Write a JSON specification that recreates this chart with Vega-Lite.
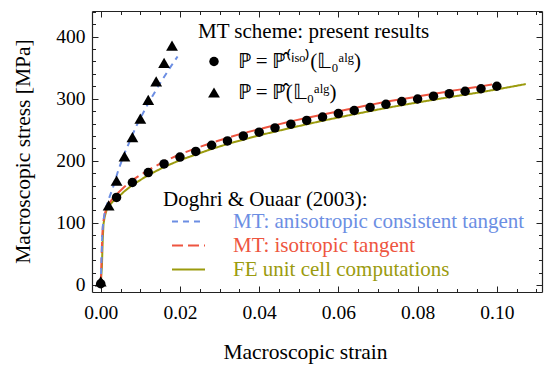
{
  "$schema": "https://vega.github.io/schema/vega-lite/v6.json",
  "width": 450,
  "height": 281,
  "autosize": "none",
  "padding": {"left": 92, "top": 11, "right": 2, "bottom": 73},
  "background": "white",
  "config": {
    "view": {"stroke": null},
    "font": "Liberation Serif",
    "axis": {
      "labelFont": "Liberation Serif", "labelFontSize": 19.5, "labelColor": "black",
      "titleFont": "Liberation Serif", "titleFontSize": 21.5, "titleFontWeight": "normal", "titleColor": "black",
      "domainColor": "#222222", "domainWidth": 1.2, "tickColor": "#222222", "tickWidth": 1,
      "grid": false, "labelOverlap": false, "labelFlush": false
    },
    "legend": {
      "labelFont": "Liberation Serif", "labelFontSize": 21, "labelLimit": 600,
      "titleFont": "Liberation Serif", "titleFontSize": 21, "titleFontWeight": "normal", "titleColor": "black", "titleLimit": 600
    }
  },
  "datasets": {
    "lines": [
      {"strain": 0, "stress": 0, "method": "FE unit cell computations"},
      {"strain": 0.0003, "stress": 30, "method": "FE unit cell computations"},
      {"strain": 0.0005, "stress": 72, "method": "FE unit cell computations"},
      {"strain": 0.0007, "stress": 98, "method": "FE unit cell computations"},
      {"strain": 0.001, "stress": 110, "method": "FE unit cell computations"},
      {"strain": 0.0015, "stress": 121, "method": "FE unit cell computations"},
      {"strain": 0.002, "stress": 127, "method": "FE unit cell computations"},
      {"strain": 0.003, "stress": 134, "method": "FE unit cell computations"},
      {"strain": 0.004, "stress": 139, "method": "FE unit cell computations"},
      {"strain": 0.006, "stress": 151, "method": "FE unit cell computations"},
      {"strain": 0.008, "stress": 161, "method": "FE unit cell computations"},
      {"strain": 0.012, "stress": 177, "method": "FE unit cell computations"},
      {"strain": 0.016, "stress": 190, "method": "FE unit cell computations"},
      {"strain": 0.02, "stress": 201, "method": "FE unit cell computations"},
      {"strain": 0.024, "stress": 210, "method": "FE unit cell computations"},
      {"strain": 0.028, "stress": 219, "method": "FE unit cell computations"},
      {"strain": 0.032, "stress": 227, "method": "FE unit cell computations"},
      {"strain": 0.036, "stress": 234, "method": "FE unit cell computations"},
      {"strain": 0.04, "stress": 241, "method": "FE unit cell computations"},
      {"strain": 0.048, "stress": 253, "method": "FE unit cell computations"},
      {"strain": 0.056, "stress": 264.5, "method": "FE unit cell computations"},
      {"strain": 0.064, "stress": 275, "method": "FE unit cell computations"},
      {"strain": 0.072, "stress": 285, "method": "FE unit cell computations"},
      {"strain": 0.08, "stress": 294, "method": "FE unit cell computations"},
      {"strain": 0.088, "stress": 302.5, "method": "FE unit cell computations"},
      {"strain": 0.096, "stress": 310.5, "method": "FE unit cell computations"},
      {"strain": 0.1, "stress": 315, "method": "FE unit cell computations"},
      {"strain": 0.1073, "stress": 323.5, "method": "FE unit cell computations"},
      {"strain": 0, "stress": 0, "method": "MT: isotropic tangent"},
      {"strain": 0.0002, "stress": 40, "method": "MT: isotropic tangent"},
      {"strain": 0.0004, "stress": 80, "method": "MT: isotropic tangent"},
      {"strain": 0.0006, "stress": 100, "method": "MT: isotropic tangent"},
      {"strain": 0.001, "stress": 114, "method": "MT: isotropic tangent"},
      {"strain": 0.0015, "stress": 124, "method": "MT: isotropic tangent"},
      {"strain": 0.002, "stress": 130, "method": "MT: isotropic tangent"},
      {"strain": 0.003, "stress": 139, "method": "MT: isotropic tangent"},
      {"strain": 0.004, "stress": 146, "method": "MT: isotropic tangent"},
      {"strain": 0.006, "stress": 158, "method": "MT: isotropic tangent"},
      {"strain": 0.008, "stress": 169, "method": "MT: isotropic tangent"},
      {"strain": 0.012, "stress": 185, "method": "MT: isotropic tangent"},
      {"strain": 0.016, "stress": 199, "method": "MT: isotropic tangent"},
      {"strain": 0.02, "stress": 210.5, "method": "MT: isotropic tangent"},
      {"strain": 0.024, "stress": 220, "method": "MT: isotropic tangent"},
      {"strain": 0.028, "stress": 229, "method": "MT: isotropic tangent"},
      {"strain": 0.032, "stress": 237, "method": "MT: isotropic tangent"},
      {"strain": 0.036, "stress": 244.5, "method": "MT: isotropic tangent"},
      {"strain": 0.04, "stress": 251, "method": "MT: isotropic tangent"},
      {"strain": 0.048, "stress": 263.5, "method": "MT: isotropic tangent"},
      {"strain": 0.056, "stress": 274.5, "method": "MT: isotropic tangent"},
      {"strain": 0.064, "stress": 285, "method": "MT: isotropic tangent"},
      {"strain": 0.072, "stress": 295, "method": "MT: isotropic tangent"},
      {"strain": 0.08, "stress": 303.5, "method": "MT: isotropic tangent"},
      {"strain": 0.088, "stress": 312, "method": "MT: isotropic tangent"},
      {"strain": 0.096, "stress": 320, "method": "MT: isotropic tangent"},
      {"strain": 0.0988, "stress": 323, "method": "MT: isotropic tangent"},
      {"strain": 0, "stress": 0, "method": "MT: anisotropic consistent tangent"},
      {"strain": 0.0002, "stress": 40, "method": "MT: anisotropic consistent tangent"},
      {"strain": 0.0004, "stress": 80, "method": "MT: anisotropic consistent tangent"},
      {"strain": 0.0006, "stress": 100, "method": "MT: anisotropic consistent tangent"},
      {"strain": 0.001, "stress": 116, "method": "MT: anisotropic consistent tangent"},
      {"strain": 0.0015, "stress": 128, "method": "MT: anisotropic consistent tangent"},
      {"strain": 0.002, "stress": 138, "method": "MT: anisotropic consistent tangent"},
      {"strain": 0.003, "stress": 155, "method": "MT: anisotropic consistent tangent"},
      {"strain": 0.0045, "stress": 186, "method": "MT: anisotropic consistent tangent"},
      {"strain": 0.006, "stress": 212, "method": "MT: anisotropic consistent tangent"},
      {"strain": 0.009, "stress": 256, "method": "MT: anisotropic consistent tangent"},
      {"strain": 0.0117, "stress": 289, "method": "MT: anisotropic consistent tangent"},
      {"strain": 0.0147, "stress": 322, "method": "MT: anisotropic consistent tangent"},
      {"strain": 0.0175, "stress": 350, "method": "MT: anisotropic consistent tangent"},
      {"strain": 0.0194, "stress": 368, "method": "MT: anisotropic consistent tangent"}
    ],
    "points": [
      {"strain": 0, "stress": 2, "scheme": "\u2119\u2009=\u2009\u2119\u0302\u207d\u2071\u02e2\u1d52\u207e(\ud835\udd43\u2080\u1d43\u02e1\u1d4d)"},
      {"strain": 0.004, "stress": 141, "scheme": "\u2119\u2009=\u2009\u2119\u0302\u207d\u2071\u02e2\u1d52\u207e(\ud835\udd43\u2080\u1d43\u02e1\u1d4d)"},
      {"strain": 0.008, "stress": 165, "scheme": "\u2119\u2009=\u2009\u2119\u0302\u207d\u2071\u02e2\u1d52\u207e(\ud835\udd43\u2080\u1d43\u02e1\u1d4d)"},
      {"strain": 0.012, "stress": 181, "scheme": "\u2119\u2009=\u2009\u2119\u0302\u207d\u2071\u02e2\u1d52\u207e(\ud835\udd43\u2080\u1d43\u02e1\u1d4d)"},
      {"strain": 0.016, "stress": 195, "scheme": "\u2119\u2009=\u2009\u2119\u0302\u207d\u2071\u02e2\u1d52\u207e(\ud835\udd43\u2080\u1d43\u02e1\u1d4d)"},
      {"strain": 0.02, "stress": 206, "scheme": "\u2119\u2009=\u2009\u2119\u0302\u207d\u2071\u02e2\u1d52\u207e(\ud835\udd43\u2080\u1d43\u02e1\u1d4d)"},
      {"strain": 0.024, "stress": 215, "scheme": "\u2119\u2009=\u2009\u2119\u0302\u207d\u2071\u02e2\u1d52\u207e(\ud835\udd43\u2080\u1d43\u02e1\u1d4d)"},
      {"strain": 0.028, "stress": 225, "scheme": "\u2119\u2009=\u2009\u2119\u0302\u207d\u2071\u02e2\u1d52\u207e(\ud835\udd43\u2080\u1d43\u02e1\u1d4d)"},
      {"strain": 0.032, "stress": 232, "scheme": "\u2119\u2009=\u2009\u2119\u0302\u207d\u2071\u02e2\u1d52\u207e(\ud835\udd43\u2080\u1d43\u02e1\u1d4d)"},
      {"strain": 0.036, "stress": 240, "scheme": "\u2119\u2009=\u2009\u2119\u0302\u207d\u2071\u02e2\u1d52\u207e(\ud835\udd43\u2080\u1d43\u02e1\u1d4d)"},
      {"strain": 0.04, "stress": 246, "scheme": "\u2119\u2009=\u2009\u2119\u0302\u207d\u2071\u02e2\u1d52\u207e(\ud835\udd43\u2080\u1d43\u02e1\u1d4d)"},
      {"strain": 0.044, "stress": 253, "scheme": "\u2119\u2009=\u2009\u2119\u0302\u207d\u2071\u02e2\u1d52\u207e(\ud835\udd43\u2080\u1d43\u02e1\u1d4d)"},
      {"strain": 0.048, "stress": 259, "scheme": "\u2119\u2009=\u2009\u2119\u0302\u207d\u2071\u02e2\u1d52\u207e(\ud835\udd43\u2080\u1d43\u02e1\u1d4d)"},
      {"strain": 0.052, "stress": 265, "scheme": "\u2119\u2009=\u2009\u2119\u0302\u207d\u2071\u02e2\u1d52\u207e(\ud835\udd43\u2080\u1d43\u02e1\u1d4d)"},
      {"strain": 0.056, "stress": 270.5, "scheme": "\u2119\u2009=\u2009\u2119\u0302\u207d\u2071\u02e2\u1d52\u207e(\ud835\udd43\u2080\u1d43\u02e1\u1d4d)"},
      {"strain": 0.06, "stress": 276, "scheme": "\u2119\u2009=\u2009\u2119\u0302\u207d\u2071\u02e2\u1d52\u207e(\ud835\udd43\u2080\u1d43\u02e1\u1d4d)"},
      {"strain": 0.064, "stress": 281, "scheme": "\u2119\u2009=\u2009\u2119\u0302\u207d\u2071\u02e2\u1d52\u207e(\ud835\udd43\u2080\u1d43\u02e1\u1d4d)"},
      {"strain": 0.068, "stress": 286, "scheme": "\u2119\u2009=\u2009\u2119\u0302\u207d\u2071\u02e2\u1d52\u207e(\ud835\udd43\u2080\u1d43\u02e1\u1d4d)"},
      {"strain": 0.072, "stress": 291, "scheme": "\u2119\u2009=\u2009\u2119\u0302\u207d\u2071\u02e2\u1d52\u207e(\ud835\udd43\u2080\u1d43\u02e1\u1d4d)"},
      {"strain": 0.076, "stress": 295.5, "scheme": "\u2119\u2009=\u2009\u2119\u0302\u207d\u2071\u02e2\u1d52\u207e(\ud835\udd43\u2080\u1d43\u02e1\u1d4d)"},
      {"strain": 0.08, "stress": 299.5, "scheme": "\u2119\u2009=\u2009\u2119\u0302\u207d\u2071\u02e2\u1d52\u207e(\ud835\udd43\u2080\u1d43\u02e1\u1d4d)"},
      {"strain": 0.084, "stress": 304, "scheme": "\u2119\u2009=\u2009\u2119\u0302\u207d\u2071\u02e2\u1d52\u207e(\ud835\udd43\u2080\u1d43\u02e1\u1d4d)"},
      {"strain": 0.088, "stress": 308, "scheme": "\u2119\u2009=\u2009\u2119\u0302\u207d\u2071\u02e2\u1d52\u207e(\ud835\udd43\u2080\u1d43\u02e1\u1d4d)"},
      {"strain": 0.092, "stress": 312, "scheme": "\u2119\u2009=\u2009\u2119\u0302\u207d\u2071\u02e2\u1d52\u207e(\ud835\udd43\u2080\u1d43\u02e1\u1d4d)"},
      {"strain": 0.096, "stress": 316, "scheme": "\u2119\u2009=\u2009\u2119\u0302\u207d\u2071\u02e2\u1d52\u207e(\ud835\udd43\u2080\u1d43\u02e1\u1d4d)"},
      {"strain": 0.1, "stress": 320, "scheme": "\u2119\u2009=\u2009\u2119\u0302\u207d\u2071\u02e2\u1d52\u207e(\ud835\udd43\u2080\u1d43\u02e1\u1d4d)"},
      {"strain": 0, "stress": 6, "scheme": "\u2119\u2009=\u2009\u2119\u0302(\ud835\udd43\u2080\u1d43\u02e1\u1d4d)"},
      {"strain": 0.002, "stress": 128, "scheme": "\u2119\u2009=\u2009\u2119\u0302(\ud835\udd43\u2080\u1d43\u02e1\u1d4d)"},
      {"strain": 0.004, "stress": 168, "scheme": "\u2119\u2009=\u2009\u2119\u0302(\ud835\udd43\u2080\u1d43\u02e1\u1d4d)"},
      {"strain": 0.006, "stress": 207, "scheme": "\u2119\u2009=\u2009\u2119\u0302(\ud835\udd43\u2080\u1d43\u02e1\u1d4d)"},
      {"strain": 0.008, "stress": 238, "scheme": "\u2119\u2009=\u2009\u2119\u0302(\ud835\udd43\u2080\u1d43\u02e1\u1d4d)"},
      {"strain": 0.01, "stress": 268, "scheme": "\u2119\u2009=\u2009\u2119\u0302(\ud835\udd43\u2080\u1d43\u02e1\u1d4d)"},
      {"strain": 0.012, "stress": 298, "scheme": "\u2119\u2009=\u2009\u2119\u0302(\ud835\udd43\u2080\u1d43\u02e1\u1d4d)"},
      {"strain": 0.014, "stress": 328, "scheme": "\u2119\u2009=\u2009\u2119\u0302(\ud835\udd43\u2080\u1d43\u02e1\u1d4d)"},
      {"strain": 0.016, "stress": 357.5, "scheme": "\u2119\u2009=\u2009\u2119\u0302(\ud835\udd43\u2080\u1d43\u02e1\u1d4d)"},
      {"strain": 0.018, "stress": 385.5, "scheme": "\u2119\u2009=\u2009\u2119\u0302(\ud835\udd43\u2080\u1d43\u02e1\u1d4d)"}
    ]
  },
  "layer": [
    {
      "data": {"name": "lines"},
      "transform": [{"filter": "datum.method === 'FE unit cell computations'"}],
      "mark": {"type": "line", "strokeWidth": 2},
      "encoding": {
        "x": {
          "field": "strain", "type": "quantitative",
          "scale": {"domain": [-0.0022, 0.1114], "nice": false, "zero": false},
          "axis": {
            "orient": "bottom", "title": "Macroscopic strain",
            "values": [0, 0.02, 0.04, 0.06, 0.08, 0.1],
            "format": ".2f", "tickSize": -6, "labelPadding": 17,
            "titleX": 213, "titleY": 66, "titleBaseline": "alphabetic", "titleAlign": "center"
          }
        },
        "y": {
          "field": "stress", "type": "quantitative",
          "scale": {"domain": [-11.3, 441.2], "nice": false, "zero": false},
          "axis": {
            "orient": "left", "title": "Macroscopic stress [MPa]",
            "values": [0, 100, 200, 300, 400],
            "tickSize": -6, "labelPadding": 13,
            "titleX": -63, "titleY": 140, "titleAngle": 270, "titleBaseline": "alphabetic", "titleAlign": "center"
          }
        },
        "color": {
          "field": "method", "type": "nominal",
          "scale": {
            "domain": ["MT: anisotropic consistent tangent", "MT: isotropic tangent", "FE unit cell computations"],
            "range": ["#6C8EE3", "#EE5540", "#9B9B0E"]
          },
          "legend": {
            "title": "Doghri & Ouaar (2003):",
            "orient": "none", "legendX": 71, "legendY": 178, "padding": 0,
            "titlePadding": 1,
            "symbolType": "M-16.5,0H16.5", "symbolSize": 4, "symbolStrokeWidth": 2,
            "symbolOffset": 15, "labelOffset": 34, "rowPadding": 2,
            "encode": {"labels": {"update": {"fill": {"scale": "color", "field": "value"}}}}
          }
        },
        "strokeDash": {
          "field": "method", "type": "nominal",
          "scale": {
            "domain": ["MT: anisotropic consistent tangent", "MT: isotropic tangent", "FE unit cell computations"],
            "range": [[6, 5], [11, 5], [1, 0]]
          },
          "legend": {
            "title": "Doghri & Ouaar (2003):",
            "orient": "none", "legendX": 71, "legendY": 178, "padding": 0,
            "titlePadding": 1,
            "symbolType": "M-16.5,0H16.5", "symbolSize": 4, "symbolStrokeWidth": 2,
            "symbolOffset": 15, "labelOffset": 34, "rowPadding": 2,
            "encode": {"labels": {"update": {"fill": {"scale": "color", "field": "value"}}}}
          }
        }
      }
    },
    {
      "data": {"name": "lines"},
      "transform": [{"filter": "datum.method === 'MT: isotropic tangent'"}],
      "mark": {"type": "line", "strokeWidth": 2},
      "encoding": {
        "x": {
          "field": "strain", "type": "quantitative",
          "scale": {"domain": [-0.0022, 0.1114], "nice": false, "zero": false},
          "axis": {
            "orient": "bottom", "title": null, "labels": false, "domain": false,
            "values": [0.005, 0.01, 0.015, 0.025, 0.03, 0.035, 0.045, 0.05, 0.055, 0.065, 0.07, 0.075, 0.085, 0.09, 0.095, 0.105, 0.11],
            "tickSize": -3.5
          }
        },
        "y": {
          "field": "stress", "type": "quantitative",
          "scale": {"domain": [-11.3, 441.2], "nice": false, "zero": false},
          "axis": {
            "orient": "left", "title": null, "labels": false, "domain": false,
            "values": [20, 40, 60, 80, 120, 140, 160, 180, 220, 240, 260, 280, 320, 340, 360, 380, 420, 440],
            "tickSize": -3.5
          }
        },
        "color": {"field": "method", "type": "nominal"},
        "strokeDash": {"field": "method", "type": "nominal"}
      }
    },
    {
      "data": {"name": "lines"},
      "transform": [{"filter": "datum.method === 'MT: anisotropic consistent tangent'"}],
      "mark": {"type": "line", "strokeWidth": 2},
      "encoding": {
        "x": {
          "field": "strain", "type": "quantitative",
          "scale": {"domain": [-0.0022, 0.1114], "nice": false, "zero": false},
          "axis": {
            "orient": "top", "title": null, "labels": false,
            "values": [0, 0.02, 0.04, 0.06, 0.08, 0.1],
            "tickSize": -6
          }
        },
        "y": {
          "field": "stress", "type": "quantitative",
          "scale": {"domain": [-11.3, 441.2], "nice": false, "zero": false},
          "axis": {
            "orient": "right", "title": null, "labels": false,
            "values": [0, 100, 200, 300, 400],
            "tickSize": -6
          }
        },
        "color": {"field": "method", "type": "nominal"},
        "strokeDash": {"field": "method", "type": "nominal"}
      }
    },
    {
      "data": {"name": "points"},
      "mark": {"type": "point", "filled": true, "opacity": 1, "color": "black"},
      "encoding": {
        "x": {
          "field": "strain", "type": "quantitative",
          "scale": {"domain": [-0.0022, 0.1114], "nice": false, "zero": false},
          "axis": {
            "orient": "top", "title": null, "labels": false, "domain": false,
            "values": [0.005, 0.01, 0.015, 0.025, 0.03, 0.035, 0.045, 0.05, 0.055, 0.065, 0.07, 0.075, 0.085, 0.09, 0.095, 0.105, 0.11],
            "tickSize": -3.5
          }
        },
        "y": {
          "field": "stress", "type": "quantitative",
          "scale": {"domain": [-11.3, 441.2], "nice": false, "zero": false},
          "axis": {
            "orient": "right", "title": null, "labels": false, "domain": false,
            "values": [20, 40, 60, 80, 120, 140, 160, 180, 220, 240, 260, 280, 320, 340, 360, 380, 420, 440],
            "tickSize": -3.5
          }
        },
        "shape": {
          "field": "scheme", "type": "nominal",
          "scale": {
            "domain": ["\u2119\u2009=\u2009\u2119\u0302\u207d\u2071\u02e2\u1d52\u207e(\ud835\udd43\u2080\u1d43\u02e1\u1d4d)", "\u2119\u2009=\u2009\u2119\u0302(\ud835\udd43\u2080\u1d43\u02e1\u1d4d)"],
            "range": ["circle", "triangle-up"]
          },
          "legend": {
            "title": "MT scheme: present results",
            "orient": "none", "legendX": 106, "legendY": 10, "padding": 0,
            "titlePadding": 9, "labelColor": "black",
            "symbolFillColor": "black", "symbolStrokeColor": "black", "symbolStrokeWidth": 0,
            "symbolOffset": 5.5, "labelOffset": 13, "rowPadding": 9
          }
        },
        "size": {
          "field": "scheme", "type": "nominal",
          "scale": {
            "domain": ["\u2119\u2009=\u2009\u2119\u0302\u207d\u2071\u02e2\u1d52\u207e(\ud835\udd43\u2080\u1d43\u02e1\u1d4d)", "\u2119\u2009=\u2009\u2119\u0302(\ud835\udd43\u2080\u1d43\u02e1\u1d4d)"],
            "range": [90, 140]
          },
          "legend": {
            "title": "MT scheme: present results",
            "orient": "none", "legendX": 106, "legendY": 10, "padding": 0,
            "titlePadding": 9, "labelColor": "black",
            "symbolFillColor": "black", "symbolStrokeColor": "black", "symbolStrokeWidth": 0,
            "symbolOffset": 5.5, "labelOffset": 13, "rowPadding": 9
          }
        }
      }
    }
  ],
  "resolve": {"axis": {"x": "independent", "y": "independent"}}
}
